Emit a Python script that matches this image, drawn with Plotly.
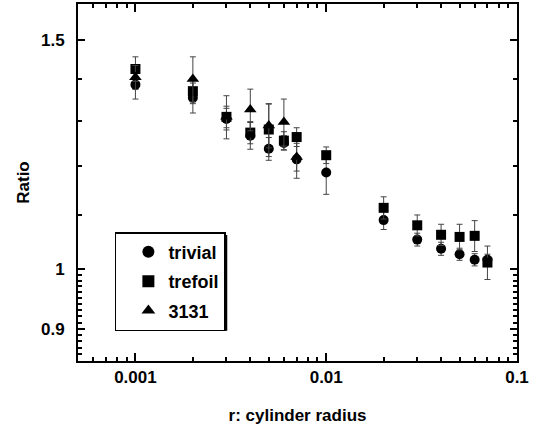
import plotly.graph_objects as go
import numpy as np

# ---- data ----
radius = [0.001, 0.002, 0.003, 0.004, 0.005, 0.006, 0.007, 0.01,
          0.02, 0.03, 0.04, 0.05, 0.06, 0.07]
trivial = [1.387, 1.355, 1.305, 1.267, 1.238, 1.251, 1.215, 1.187,
           1.091, 1.054, 1.037, 1.027, 1.017, 1.017]
trivial_err = [0.035, 0.036, 0.025, 0.030, 0.025, 0.016, 0.040, 0.045,
               0.018, 0.012, 0.012, 0.011, 0.011, 0.010]
trefoil = [1.426, 1.371, 1.310, 1.274, 1.281, 1.256, 1.264, 1.224,
           1.115, 1.081, 1.063, 1.059, 1.061, 1.012]
trefoil_err = [0.031, 0.030, 0.025, 0.025, 0.060, 0.020, 0.021, 0.018,
               0.022, 0.020, 0.020, 0.024, 0.029, 0.030]
radius_3131 = [0.001, 0.002, 0.003, 0.004, 0.005, 0.006, 0.007]
k3131 = [1.405, 1.401, 1.310, 1.327, 1.290, 1.298, 1.220]
k3131_err = [0.030, 0.056, 0.050, 0.049, 0.050, 0.054, 0.030]

x_tickvals = [0.001, 0.01, 0.1]
x_ticktext = ["0.001", "0.01", "0.1"]
y_tickvals = [0.9, 1, 1.5]
y_ticktext = ["0.9", "1", "1.5"]

FONT = "Liberation Sans, Arial, sans-serif"

x_minor = [m * d for d in (0.0001, 0.001, 0.01) for m in range(2, 10)]
x_minor = [v for v in x_minor if 0.0005 <= v <= 0.1]
y_minor = [round(0.85 + 0.01 * i, 2) for i in range(15) if round(0.85 + 0.01 * i, 2) != 0.9] \
          + [1.1, 1.2, 1.3, 1.4, 1.6]

err_style = dict(type="data", thickness=1, width=3, color="#444")

fig = go.Figure()
fig.add_trace(go.Scatter(x=radius, y=trivial, mode="markers", name="trivial",
                         legendgroup="a",
                         marker=dict(symbol="circle", size=10, color="black"),
                         error_y=dict(array=trivial_err, **err_style)))
fig.add_trace(go.Scatter(x=radius, y=trefoil, mode="markers", name="trefoil",
                         legendgroup="b",
                         marker=dict(symbol="square", size=10, color="black"),
                         error_y=dict(array=trefoil_err, **err_style)))
fig.add_trace(go.Scatter(x=radius_3131, y=k3131, mode="markers", name="3131",
                         legendgroup="c",
                         marker=dict(symbol="triangle-up", size=11, color="black"),
                         error_y=dict(array=k3131_err, **err_style)))

# legend drop shadow (paper coordinates)
fig.add_shape(type="rect", xref="paper", yref="paper",
              x0=0.091, x1=0.340, y0=0.085, y1=0.353,
              fillcolor="black", line=dict(width=0), layer="above")

fig.update_layout(
    width=541, height=426,
    margin=dict(l=78, r=24, t=4, b=65, autoexpand=False),
    paper_bgcolor="white", plot_bgcolor="white",
    font=dict(family=FONT, size=17, color="black"),
    showlegend=True,
    legend=dict(x=0.084, y=0.361, xanchor="left", yanchor="top",
                bgcolor="white", bordercolor="black", borderwidth=1.5,
                font=dict(family=FONT, size=18, color="black", weight="bold"),
                tracegroupgap=3, indentation=12, itemsizing="constant"),
    xaxis=dict(type="log", range=[np.log10(0.0005), np.log10(0.1)],
               automargin=False,
               tickmode="array", tickvals=x_tickvals, ticktext=x_ticktext,
               ticks="inside", ticklen=8, tickwidth=1.5, tickcolor="black",
               showline=True, linecolor="black", linewidth=2, mirror="allticks",
               showgrid=False, zeroline=False,
               tickfont=dict(family=FONT, size=17, weight="bold"),
               minor=dict(tickmode="array", tickvals=x_minor, ticks="inside",
                          ticklen=4, tickwidth=1.5, tickcolor="black", showgrid=False),
               title=dict(text="r: cylinder radius", standoff=23,
                          font=dict(family=FONT, size=17, weight="bold"))),
    yaxis=dict(type="log", range=[np.log10(0.85), np.log10(1.6)],
               automargin=False,
               tickmode="array", tickvals=y_tickvals, ticktext=y_ticktext,
               ticks="inside", ticklen=7, tickwidth=1.5, tickcolor="black",
               showline=True, linecolor="black", linewidth=2, mirror="allticks",
               showgrid=False, zeroline=False, ticklabelstandoff=8,
               tickfont=dict(family=FONT, size=17, weight="bold"),
               minor=dict(tickmode="array", tickvals=y_minor, ticks="inside",
                          ticklen=4, tickwidth=1.5, tickcolor="black", showgrid=False),
               title=dict(text="Ratio", standoff=7,
                          font=dict(family=FONT, size=17, weight="bold"))),
)

fig.write_html("out.html", config={"displayModeBar": False},
               post_script="document.body.style.margin='0';document.body.style.overflow='hidden';")
